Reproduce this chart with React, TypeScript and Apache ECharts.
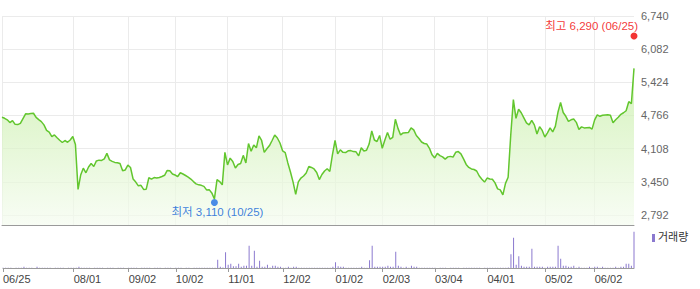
import React, { useEffect, useRef } from "react";
import * as echarts from "echarts";

// KRX trading calendar, 2024-06-25 .. 2025-06-25
const START_DATE = "2024-06-25";
const END_DATE = "2025-06-25";
const HOLIDAYS = [
  "2024-08-15", "2024-09-16", "2024-09-17", "2024-09-18", "2024-10-01", "2024-10-03",
  "2024-10-09", "2024-12-25", "2024-12-31", "2025-01-01", "2025-01-27", "2025-01-28",
  "2025-01-29", "2025-01-30", "2025-03-03", "2025-05-01", "2025-05-05", "2025-05-06",
  "2025-06-03", "2025-06-06",
];

function tradingDays(start: string, end: string): string[] {
  const out: string[] = [];
  const d = new Date(start + "T00:00:00Z");
  const e = new Date(end + "T00:00:00Z");
  while (d.getTime() <= e.getTime()) {
    const iso = d.toISOString().slice(0, 10);
    const wd = d.getUTCDay();
    if (wd !== 0 && wd !== 6 && HOLIDAYS.indexOf(iso) < 0) out.push(iso);
    d.setUTCDate(d.getUTCDate() + 1);
  }
  return out;
}

const dates = tradingDays(START_DATE, END_DATE);
const categories = dates.map((d) => d.slice(5, 7) + "/" + d.slice(8, 10));

// x-axis tick labels shown on the chart (first occurrence in the period)
const xTickLabels = [
  "06/25", "08/01", "09/02", "10/02", "11/01", "12/02",
  "01/02", "02/03", "03/04", "04/01", "05/02", "06/02",
];

// closing prices (KRW)
const prices = [
  4730, 4710, 4680, 4625, 4665, 4590, 4585, 4610, 4705, 4800,
  4795, 4805, 4810, 4730, 4685, 4645, 4580, 4470, 4435, 4345,
  4380, 4325, 4275, 4230, 4270, 4235, 4280, 4350, 4190, 3300,
  3585, 3720, 3630, 3745, 3815, 3755, 3865, 3880, 3875, 3905,
  4015, 3885, 3855, 3835, 3830, 3815, 3670, 3685, 3780, 3735,
  3505, 3445, 3370, 3380, 3300, 3305, 3530, 3505, 3535, 3525,
  3535, 3555, 3580, 3675, 3670, 3605, 3585, 3555, 3630, 3605,
  3575, 3545, 3505, 3455, 3410, 3390, 3380, 3360, 3290, 3295,
  3230, 3110, 3495, 3455, 3390, 4035, 3785, 3920, 3855, 3725,
  3795, 3815, 3975, 3825, 4210, 4055, 4180, 4125, 4360, 4270,
  4035, 4105, 4170, 4270, 4380, 4320, 4220, 4065, 4030, 3825,
  3645, 3445, 3200, 3450, 3525, 3565, 3625, 3755, 3735, 3705,
  3635, 3495, 3595, 3665, 3710, 3655, 3985, 4270, 4005, 4085,
  4035, 4030, 4065, 4070, 4050, 4045, 3965, 4125, 4060, 4075,
  4200, 4460, 4280, 4250, 4370, 4115, 4280, 4430, 4295, 4330,
  4690, 4510, 4380, 4420, 4425, 4430, 4520, 4480, 4370, 4310,
  4240, 4210, 4200, 4115, 3985, 3925, 4015, 3970, 3945, 3900,
  3945, 3955, 3940, 4035, 4050, 4005, 3905, 3795, 3735, 3705,
  3695, 3665, 3565, 3500, 3445, 3525, 3505, 3500, 3430, 3310,
  3290, 3190, 3420, 3540, 4380, 5080, 4710, 4890, 4820, 4720,
  4620, 4580, 4670, 4580, 4400, 4545, 4470, 4340, 4420, 4520,
  4440, 4550, 4830, 5025, 4825, 4750, 4650, 4680, 4695, 4630,
  4490, 4540, 4520, 4525, 4530, 4495, 4680, 4780, 4750, 4770,
  4775, 4780, 4770, 4620, 4680, 4730, 4790, 4820, 4860, 5040,
  5000, 5700,
];

// trading volume (thousand shares)
const volumes = [
  9, 7, 10, 8, 6, 9, 7, 11, 65, 8,
  7, 9, 6, 65, 8, 10, 7, 9, 8, 6,
  9, 7, 8, 10, 6, 9, 8, 7, 12, 65,
  11, 8, 9, 7, 6, 8, 10, 7, 9, 6,
  8, 7, 9, 6, 8, 7, 10, 6, 8, 9,
  7, 8, 6, 9, 10, 7, 8, 6, 9, 7,
  8, 6, 7, 9, 8, 6, 7, 8, 9, 6,
  7, 8, 6, 9, 7, 8, 10, 7, 9, 11,
  12, 14, 415, 65, 20, 785, 165, 215, 85, 85,
  215, 65, 115, 115, 1115, 115, 865, 65, 365, 65,
  65, 165, 20, 115, 115, 65, 65, 15, 12, 65,
  14, 65, 65, 12, 9, 10, 8, 11, 7, 9,
  8, 10, 9, 7, 11, 12, 65, 285, 85, 65,
  65, 14, 10, 9, 8, 12, 11, 65, 15, 12,
  385, 1115, 65, 65, 65, 65, 65, 115, 65, 65,
  815, 115, 65, 14, 65, 12, 115, 65, 65, 11,
  9, 8, 10, 7, 9, 8, 6, 9, 7, 8,
  6, 9, 7, 8, 10, 6, 8, 9, 7, 8,
  10, 7, 9, 6, 8, 9, 11, 8, 12, 10,
  14, 13, 16, 20, 685, 1515, 165, 585, 115, 65,
  65, 65, 965, 65, 65, 65, 65, 15, 65, 65,
  65, 65, 1115, 465, 115, 115, 65, 65, 115, 14,
  65, 12, 10, 11, 65, 12, 65, 65, 10, 65,
  9, 11, 12, 10, 65, 12, 65, 65, 215, 215,
  115, 1815,
];

const yTicks = [2792, 3450, 4108, 4766, 5424, 6082, 6740];
const LOW = { index: 81, value: 3110, label: "최저" };
const HIGH = { index: 241, value: 6290, label: "최고" };
const VOLUME_NAME = "거래량";

const FONT = "'Liberation Sans', Arial, 'Noto Sans CJK KR', sans-serif";
const fmt = (v: number) => Number(v).toLocaleString("en-US");

const isTick = (i: number) =>
  xTickLabels.indexOf(categories[i]) >= 0 && categories.indexOf(categories[i]) === i;

export default function App() {
  const ref = useRef<HTMLDivElement>(null);
  useEffect(() => {
    document.body.style.margin = "0";
    if (!ref.current) return;
    const chart = echarts.init(ref.current, undefined, { renderer: "svg" });
    const option: any = {
      animation: false,
      backgroundColor: "#ffffff",
      textStyle: { fontFamily: FONT },
      grid: [
        { left: 2, right: 66, top: 16, height: 209 },
        { left: 2, right: 66, top: 225, height: 43 },
      ],
      xAxis: [
        {
          type: "category",
          gridIndex: 0,
          data: categories,
          boundaryGap: false,
          axisLine: { show: true, lineStyle: { color: "#9a9a9a", width: 1 } },
          axisTick: { show: false },
          axisLabel: { show: false },
          splitLine: { show: true, interval: isTick, lineStyle: { color: "#ebebeb" } },
        },
        {
          type: "category",
          gridIndex: 1,
          data: categories,
          boundaryGap: false,
          axisLine: { show: true, lineStyle: { color: "#9a9a9a" } },
          axisTick: { show: true, interval: isTick, length: 4, lineStyle: { color: "#9a9a9a" } },
          axisLabel: {
            interval: isTick,
            align: "left",
            margin: 5,
            color: "#444",
            fontSize: 11,
            fontFamily: FONT,
          },
          splitLine: { show: false },
        },
      ],
      yAxis: [
        {
          type: "value",
          gridIndex: 0,
          position: "right",
          min: 2593.4,
          max: 6740,
          axisLine: { show: false },
          axisTick: { show: false, customValues: yTicks },
          axisLabel: {
            customValues: yTicks,
            formatter: (v: number) => fmt(v),
            margin: 7,
            color: "#666",
            fontSize: 11,
            fontFamily: FONT,
          },
          splitLine: { show: true, lineStyle: { color: "#ebebeb" } },
        },
        { type: "value", gridIndex: 1, min: 0, max: 2150, show: false },
      ],
      series: [
        {
          type: "line",
          xAxisIndex: 0,
          yAxisIndex: 0,
          data: prices,
          showSymbol: false,
          lineStyle: { color: "#62c62e", width: 1.5 },
          areaStyle: {
            color: new echarts.graphic.LinearGradient(0, 0, 0, 1, [
              { offset: 0, color: "#c3eda0" },
              { offset: 1, color: "#f5fcf0" },
            ]),
          },
          z: 2,
        },
        {
          type: "scatter",
          xAxisIndex: 0,
          yAxisIndex: 0,
          data: [[LOW.index, LOW.value]],
          symbolSize: 7,
          symbolOffset: [0, 3.5],
          itemStyle: { color: "#1e6fe4" },
          label: {
            show: true,
            position: "bottom",
            distance: 0,
            offset: [3, 0],
            formatter: `${LOW.label} ${fmt(LOW.value)} (${categories[LOW.index]})`,
            color: "#0a5ed6",
            fontSize: 11.5,
            fontFamily: FONT,
          },
          z: 5,
        },
        {
          type: "scatter",
          xAxisIndex: 0,
          yAxisIndex: 0,
          data: [[HIGH.index, HIGH.value]],
          symbolSize: 7,
          symbolOffset: [0, -2.7],
          itemStyle: { color: "#f00000" },
          label: {
            show: true,
            position: "top",
            align: "right",
            distance: 1,
            offset: [4, 0],
            formatter: `${HIGH.label} ${fmt(HIGH.value)} (${categories[HIGH.index]})`,
            color: "#f00000",
            fontSize: 11.5,
            fontFamily: FONT,
          },
          z: 5,
        },
        {
          type: "bar",
          name: VOLUME_NAME,
          xAxisIndex: 1,
          yAxisIndex: 1,
          data: volumes,
          barWidth: 1,
          itemStyle: { color: "#8b79cf" },
        },
      ],
      graphic: [
        { type: "rect", left: 652, top: 234, shape: { width: 3, height: 8 }, style: { fill: "#8b79cf" } },
        {
          type: "text",
          left: 658,
          top: 231,
          style: { text: VOLUME_NAME, fontSize: 11, fill: "#333", fontFamily: FONT },
        },
      ],
    };
    chart.setOption(option);
    return () => chart.dispose();
  }, []);
  return (
    <div
      ref={ref}
      style={{ position: "fixed", left: 0, top: 0, width: 700, height: 289, background: "#fff" }}
    />
  );
}
